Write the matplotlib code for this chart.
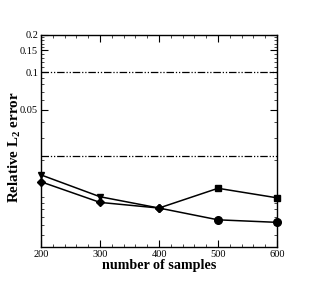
import matplotlib
matplotlib.use("Agg")
import matplotlib.pyplot as plt
from matplotlib.ticker import FixedLocator, NullFormatter, FixedFormatter, MultipleLocator

samples = [200, 300, 400, 500, 600]
err_a = [0.0151, 0.0101, 0.0082, 0.0118, 0.0099]
err_b = [0.0133, 0.0091, 0.0082, 0.0066, 0.0063]
markers_a = ['v', 'v', 'D', 's', 's']
markers_b = ['D', 'D', 'D', 'o', 'o']
ref_lines = [0.101, 0.0215]
ytick_vals = [0.05, 0.1, 0.15, 0.2]
ytick_labels = ['0.05', '0.1', '0.15', '0.2']
xtick_vals = [200, 300, 400, 500, 600]

plt.rcParams['font.family'] = ['Liberation Serif', 'DejaVu Serif']
plt.rcParams['mathtext.fontset'] = 'custom'
plt.rcParams['mathtext.rm'] = 'Liberation Serif'
plt.rcParams['mathtext.bf'] = 'Liberation Serif:bold'

fig = plt.figure(figsize=(3.16, 2.81), dpi=100)
ax = fig.add_axes([41/316, 1-247/281, (277-41)/316, (247-34.7)/281])

for y in ref_lines:
    ax.axhline(y, color='black', lw=0.9, ls=(0, (6, 1.5, 1, 1.5, 1, 1.5)))

ms = {'v': 4.8, 'D': 4.5, 's': 4.5, 'o': 5.5}
for vals, mk in ((err_a, markers_a), (err_b, markers_b)):
    ax.plot(samples, vals, color='black', lw=1.1, zorder=3)
    for x, y, m in zip(samples, vals, mk):
        ax.plot([x], [y], marker=m, ms=ms[m], color='black', ls='none', zorder=4, clip_on=False)

ax.set_yscale('log')
ax.set_ylim(0.004, 0.2)
ax.set_xlim(200, 600)

ax.yaxis.set_major_locator(FixedLocator(ytick_vals))
ax.yaxis.set_major_formatter(FixedFormatter(ytick_labels))
minor_y = [0.004, 0.005, 0.006, 0.007, 0.008, 0.009, 0.01, 0.02, 0.03, 0.04, 0.06, 0.07, 0.08, 0.09,
           0.11, 0.12, 0.13, 0.14, 0.16, 0.17, 0.18, 0.19]
ax.yaxis.set_minor_locator(FixedLocator(minor_y))
ax.yaxis.set_minor_formatter(NullFormatter())
ax.xaxis.set_major_locator(FixedLocator(xtick_vals))
ax.xaxis.set_minor_locator(MultipleLocator(20))

ax.tick_params(which='both', direction='in', top=True, right=True, labelsize=7.5, pad=2, width=0.8)
ax.tick_params(which='major', length=5)
ax.tick_params(which='minor', length=2.5, width=0.5)
for s in ax.spines.values():
    s.set_linewidth(1.0)

ax.set_xlabel('number of samples', fontsize=10.2, fontweight='bold', labelpad=0)
ax.set_ylabel(r'Relative L$_\mathbf{2}$ error', fontsize=10.8, fontweight='bold')
ax.yaxis.set_label_coords((23 - 41) / 236, (247 - 147) / 212.3)

fig.savefig('out.png', dpi=100)
